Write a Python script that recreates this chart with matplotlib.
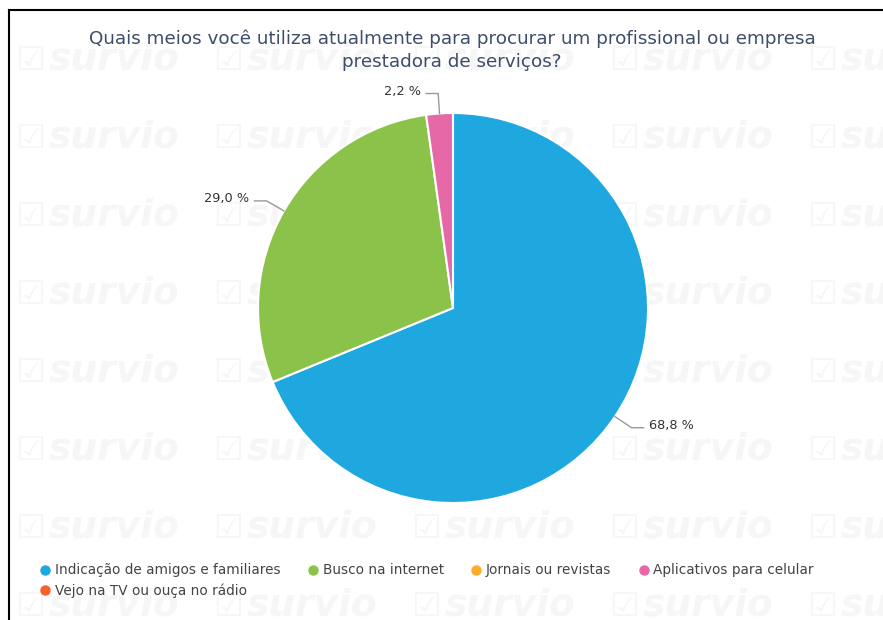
import numpy as np
import matplotlib.pyplot as plt
from matplotlib.lines import Line2D

categorias = ['Indicação de amigos e familiares', 'Busco na internet', 'Jornais ou revistas',
              'Aplicativos para celular', 'Vejo na TV ou ouça no rádio']
valores = [68.8, 29.0, 0.0, 2.2, 0.0]
cores = ['#1fa8e0', '#8bc34a', '#fdab2a', '#e668a7', '#f4622a']
titulo = 'Quais meios você utiliza atualmente para procurar um profissional ou empresa\nprestadora de serviços?'

plt.rcParams['font.family'] = ['DejaVu Sans']

W, H = 883, 620
fig = plt.figure(figsize=(W / 100, H / 100), dpi=100)
ax = fig.add_axes([0, 0, 1, 1])

# watermark tiles
for yy in np.arange(H - 60, -40, -78):
    for xx in np.arange(15, W - 60, 198):
        ax.text(xx, yy, '☑', fontsize=24, color='#f6f6f6', va='center', ha='left', zorder=0)
        ax.text(xx + 34, yy, 'survio', fontsize=27, color='#f6f6f6', fontweight='bold',
                style='italic', va='center', ha='left', zorder=0)

# frame
ax.add_line(Line2D([9, 9], [0, H - 10], color='black', lw=1.5))
ax.add_line(Line2D([9, W], [H - 10, H - 10], color='black', lw=1.5))

ax.text(452, H - 50, titulo, ha='center', va='center', fontsize=13.2,
        color='#3d4d6a', linespacing=1.35)

cx, cy, r = 453, H - 308, 195
mask = [v > 0 for v in valores]
vals = [v for v, m in zip(valores, mask) if m]
cols = [c for c, m in zip(cores, mask) if m]
wedges, _ = ax.pie(vals, colors=cols, startangle=90, counterclock=False,
                   center=(cx, cy), radius=r, frame=True,
                   wedgeprops=dict(edgecolor='white', linewidth=1.5))
ax.set_xlim(0, W)
ax.set_ylim(0, H)
ax.set_aspect('equal')
ax.axis('off')

for w, v in zip(wedges, vals):
    ang = np.deg2rad((w.theta1 + w.theta2) / 2)
    ca, sa = np.cos(ang), np.sin(ang)
    side = 1 if ca >= 0 else -1
    p0 = (cx + r * ca, cy + r * sa)
    p1 = (cx + (r + 20) * ca, cy + (r + 20) * sa)
    p2 = (p1[0] + side * 12, p1[1])
    ax.plot([p0[0], p1[0], p2[0]], [p0[1], p1[1], p2[1]], color='#999999', lw=1)
    ax.text(p2[0] + side * 5, p2[1] + 2, f'{v:.1f}'.replace('.', ',') + ' %',
            ha='left' if side > 0 else 'right', va='center', fontsize=9.3, color='#333333')

handles = [Line2D([], [], marker='o', linestyle='', markersize=6.5, color=c) for c in cores]
ordem = [0, 4, 1, 2, 3]
fig.legend([handles[i] for i in ordem], [categorias[i] for i in ordem],
           loc='upper left', bbox_to_anchor=(33 / W, 1 - 558 / H), ncol=4, frameon=False,
           fontsize=9.8, labelcolor='#444444', handletextpad=0.2, columnspacing=1.9,
           handlelength=1.0, labelspacing=0.45, borderaxespad=0)

fig.savefig('out.png', dpi=100)
